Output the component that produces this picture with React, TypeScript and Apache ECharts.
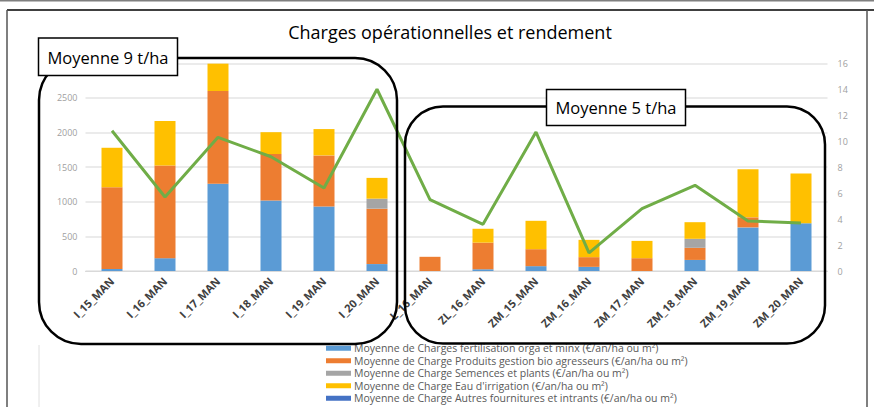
import React, { useEffect, useRef } from "react";
import * as echarts from "echarts";

const categories = [
  "I_15_MAN", "I_16_MAN", "I_17_MAN", "I_18_MAN", "I_19_MAN", "I_20_MAN",
  "L_16_MAN", "ZL_16_MAN", "ZM_15_MAN", "ZM_16_MAN", "ZM_17_MAN", "ZM_18_MAN", "ZM_19_MAN", "ZM_20_MAN",
];
const fertilisation = [30, 185, 1260, 1020, 930, 100, 0, 25, 70, 60, 0, 160, 630, 690];
const produitsBio = [1180, 1340, 1340, 670, 740, 800, 205, 385, 245, 140, 185, 175, 145, 0];
const semences = [0, 0, 0, 0, 0, 145, 0, 0, 0, 0, 0, 130, 0, 0];
const irrigation = [570, 640, 395, 315, 380, 300, 0, 200, 410, 250, 250, 240, 695, 720];
const autres = [0, 0, 0, 0, 0, 0, 0, 0, 0, 0, 0, 0, 0, 0];
const rendement = [10.8, 5.7, 10.3, 8.8, 6.4, 14.0, 5.5, 3.6, 10.7, 1.4, 4.8, 6.6, 3.85, 3.7];

const seriesNames = [
  "Moyenne de Charges fertilisation orga et minx (€/an/ha ou m²)",
  "Moyenne de Charge Produits gestion bio agresseurs (€/an/ha ou m²)",
  "Moyenne de Charge Semences et plants (€/an/ha ou m²)",
  "Moyenne de Charge Eau d'irrigation (€/an/ha ou m²)",
  "Moyenne de Charge Autres fournitures et intrants (€/an/ha ou m²)",
];
const colors = ["#5B9BD5", "#ED7D31", "#A5A5A5", "#FFC000", "#4472C4"];
const leftTicks = [0, 3000, 500];
const rightTicks = [0, 16, 2];

export default function App() {
  const ref = useRef<HTMLDivElement>(null);
  useEffect(() => {
    if (!ref.current) return;
    const chart = echarts.init(ref.current, null, { renderer: "svg" });
    const barData = [fertilisation, produitsBio, semences, irrigation, autres];
    const font = "'Open Sans', 'Liberation Sans', sans-serif";
    chart.setOption({
      animation: false,
      textStyle: { fontFamily: font },
      title: {
        text: "Charges opérationnelles et rendement",
        left: 445,
        textAlign: "center",
        top: 18,
        textStyle: { fontSize: 18, fontWeight: "normal", color: "#000", fontFamily: font },
      },
      grid: { left: 85.5, top: 63.3, width: 742, height: 207.7, containLabel: false },
      legend: {
        data: seriesNames,
        orient: "vertical",
        left: 326,
        top: 342,
        itemWidth: 25,
        itemHeight: 5,
        itemGap: 0,
        icon: "rect",
        textStyle: { fontSize: 10.5, lineHeight: 12.5, color: "#595959", padding: [0, 0, 0, -2] },
        padding: 0,
      },
      xAxis: {
        type: "category",
        data: categories,
        axisTick: { show: false },
        axisLine: { lineStyle: { color: "#D9D9D9" } },
        axisLabel: {
          rotate: 45,
          fontSize: 11,
          fontWeight: "bold",
          color: "#404040",
          margin: 8,
          interval: 0,
        },
      },
      yAxis: [
        {
          type: "value",
          min: leftTicks[0],
          max: leftTicks[1],
          interval: leftTicks[2],
          axisLabel: {
            fontSize: 9,
            color: "#A0A0A0",
            margin: 8,
            formatter: (v: number) => (v >= leftTicks[1] ? "" : String(v)),
          },
          splitLine: { lineStyle: { color: "#E4E4E4", width: 1.5 } },
          axisLine: { show: false },
          axisTick: { show: false },
        },
        {
          type: "value",
          min: rightTicks[0],
          max: rightTicks[1],
          interval: rightTicks[2],
          position: "right",
          axisLabel: { fontSize: 9, color: "#A0A0A0", margin: 10 },
          splitLine: { show: false },
          axisLine: { show: false },
          axisTick: { show: false },
        },
      ],
      series: [
        ...seriesNames.map((name, i) => ({
          name,
          type: "bar",
          stack: "charges",
          data: barData[i],
          barWidth: 21,
          itemStyle: { color: colors[i] },
        })),
        {
          name: "Rendement",
          type: "line",
          yAxisIndex: 1,
          data: rendement,
          symbol: "none",
          lineStyle: { color: "#70AD47", width: 3 },
          z: 5,
        },
      ],
      graphic: [
        { type: "line", shape: { x1: 0, y1: 0.5, x2: 874, y2: 0.5 }, style: { stroke: "#7F7F7F", lineWidth: 2 } },
        { type: "line", shape: { x1: 7, y1: 10, x2: 874, y2: 10 }, style: { stroke: "#000", lineWidth: 1.5 } },
        { type: "line", shape: { x1: 7, y1: 10, x2: 7, y2: 407 }, style: { stroke: "#555", lineWidth: 1.5 } },
        { type: "line", shape: { x1: 867, y1: 10, x2: 867, y2: 407 }, style: { stroke: "#555", lineWidth: 1.5 } },
        { type: "line", shape: { x1: 39, y1: 345, x2: 39, y2: 407 }, style: { stroke: "#E0E0E0", lineWidth: 1 } },
        {
          type: "rect",
          shape: { x: 39, y: 58, width: 358, height: 286, r: 42 },
          style: { fill: "none", stroke: "#000", lineWidth: 2.5 },
          z: 100,
        },
        {
          type: "rect",
          shape: { x: 405, y: 106.5, width: 420, height: 237, r: 38 },
          style: { fill: "none", stroke: "#000", lineWidth: 2.5 },
          z: 100,
        },
        {
          type: "rect",
          shape: { x: 38.5, y: 38, width: 139, height: 37.5 },
          style: { fill: "#fff", stroke: "#000", lineWidth: 1.5 },
          z: 101,
        },
        {
          type: "text",
          x: 108,
          y: 57,
          style: { text: "Moyenne 9 t/ha", fontSize: 16.5, fill: "#000", fontFamily: font, align: "center", verticalAlign: "middle" },
          z: 102,
        },
        {
          type: "rect",
          shape: { x: 546.5, y: 89.5, width: 139, height: 36 },
          style: { fill: "#fff", stroke: "#000", lineWidth: 1.5 },
          z: 101,
        },
        {
          type: "text",
          x: 616,
          y: 107.5,
          style: { text: "Moyenne 5 t/ha", fontSize: 16.5, fill: "#000", fontFamily: font, align: "center", verticalAlign: "middle" },
          z: 102,
        },
      ],
    });
    return () => chart.dispose();
  }, []);
  return (
    <div
      ref={ref}
      style={{ position: "absolute", left: 0, top: 0, width: 874, height: 407, background: "#fff" }}
    />
  );
}
